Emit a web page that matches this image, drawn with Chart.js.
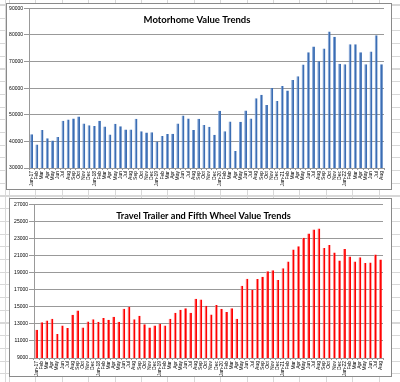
<!DOCTYPE html>
<html>
<head>
<meta charset="utf-8">
<script src="https://cdn.jsdelivr.net/npm/chart.js@4/dist/chart.umd.min.js"></script>
<style>
  html, body { margin: 0; padding: 0; }
  body {
    width: 400px; height: 382px; position: relative; overflow: hidden;
    background-color: #fff;
    background-image:
      repeating-linear-gradient(to right, #d8d8d8 0, #d8d8d8 1px, transparent 1px, transparent 26.4px),
      repeating-linear-gradient(to bottom, #d8d8d8 0, #d8d8d8 1px, transparent 1px, transparent 12.7px);
    background-position: 9px 0, 0 5px;
  }
  .box { position: absolute; background: #fff; border: 1px solid #8a8a8a; box-sizing: border-box; }
  .cv { position: absolute; left: 0; }
</style>
</head>
<body>
<div class="box" style="left:6px; top:3px; width:386px; height:187px;"></div>
<div class="box" style="left:9px; top:198px; width:383px; height:179px;"></div>
<div class="cv" style="top:0; width:400px; height:190px;"><canvas id="c1"></canvas></div>
<div class="cv" style="top:190px; width:400px; height:192px;"><canvas id="c2"></canvas></div>
<script>
const months = ["Jan","Feb","Mar","Apr","May","Jun","Jul","Aug","Sep","Oct","Nov","Dec"];
const years = ["17","18","19","20","21","22"];
const categories = [];
years.forEach(function (y, yi) {
  months.forEach(function (m, mi) {
    if (yi === years.length - 1 && mi > 7) return;
    categories.push(mi === 0 ? m + "-" + y : m);
  });
});

const motorhomeValues = [
  42700, 38800, 44300, 41200, 40300, 41700, 47800, 48200, 48600, 49400, 46700, 46100,
  45800, 47800, 45600, 42600, 46600, 45700, 44500, 44500, 48500, 43800, 43300, 43400,
  40000, 42000, 42800, 42900, 46700, 49700, 48600, 44300, 48500, 46200, 45500, 42500,
  51500, 43800, 47500, 36400, 47400, 51600, 48600, 56200, 57500, 53700, 60100, 55200,
  60800, 59100, 63100, 64500, 68900, 73500, 75700, 70100, 74900, 81300, 79300, 69200,
  69000, 76500, 76500, 73500, 69000, 73800, 79900, 69000
];
const trailerValues = [
  12300, 13200, 13400, 13600, 11800, 12800, 12500, 14060, 14570, 12570, 13270, 13550,
  13240, 13700, 13470, 13820, 13240, 14760, 15000, 13550, 13940, 12960, 12570, 12800,
  13000, 12800, 13600, 14300, 14650, 14840, 14300, 15940, 15860, 15120, 14100, 15200,
  14760, 14400, 14840, 13590, 17470, 18290, 17000, 18250, 18530, 19160, 19270, 18140,
  19510, 20290, 21700, 22100, 23080, 23590, 24060, 24180, 21900, 22250, 21350, 20410,
  21780, 20880, 20290, 20800, 20140, 20180, 21120, 20530
];
const motorhomeTicks = { min: 30000, max: 90000, step: 10000 };
const trailerTicks = { min: 9000, max: 27000, step: 2000 };

const tickFont = { family: "'Liberation Sans', Arial, sans-serif", size: 5 };
const titleFontFamily = "Lato, 'Liberation Sans', sans-serif";

const titleShift = {
  id: 'titleShift',
  afterLayout: function (chart, args, opts) {
    const tb = chart.titleBlock;
    if (!tb || opts.centerX == null) return;
    const shift = opts.centerX - (tb.left + tb.right) / 2;
    tb.left += shift;
    tb.right += shift;
  }
};

function makeChart(id, title, values, color, edge, ticks, geo) {
  return new Chart(document.getElementById(id), {
    type: 'bar',
    data: {
      labels: categories,
      datasets: [{
        data: values,
        backgroundColor: color,
        borderColor: edge,
        borderWidth: { left: 1, right: 0, top: 0, bottom: 0 },
        borderSkipped: false,
        barPercentage: 0.55,
        categoryPercentage: 1.0
      }]
    },
    plugins: [titleShift],
    options: {
      responsive: true,
      maintainAspectRatio: false,
      animation: false,
      devicePixelRatio: 1,
      layout: { padding: { left: geo.padLeft, right: geo.padRight, top: 0, bottom: geo.padBottom } },
      plugins: {
        legend: { display: false },
        tooltip: { enabled: false },
        titleShift: { centerX: geo.titleX },
        title: {
          display: true,
          text: title,
          color: '#000',
          font: { family: titleFontFamily, size: geo.titleSize, weight: 'bold', lineHeight: 1.2 },
          padding: { top: geo.titleTop, bottom: geo.titleBottom }
        }
      },
      scales: {
        x: {
          offset: true,
          grid: { display: true, drawOnChartArea: false, drawTicks: true, tickLength: 2, color: '#999', offset: true },
          border: { display: true, color: '#999', width: 1 },
          ticks: { autoSkip: false, maxRotation: 90, minRotation: 90, font: tickFont, color: '#000', padding: 1 },
          afterFit: function (s) { s.height = geo.xHeight; }
        },
        y: {
          min: ticks.min,
          max: ticks.max,
          grid: { color: '#999', lineWidth: 1, tickLength: 5 },
          border: { display: true, color: '#999', width: 1 },
          ticks: {
            stepSize: ticks.step, font: tickFont, color: '#000', padding: 1,
            callback: function (v) { return String(v); }
          },
          afterFit: function (s) { s.width = geo.yWidth; }
        }
      }
    }
  });
}

makeChart('c1', 'Motorhome Value Trends', motorhomeValues, '#3b6db3', '#7ea2d6', motorhomeTicks,
  { padLeft: 4, padRight: 16, padBottom: 2, xHeight: 20, yWidth: 25, titleSize: 9.5, titleTop: 14, titleBottom: -17, titleX: 197 });
makeChart('c2', 'Travel Trailer and Fifth Wheel Value Trends', trailerValues, '#ff0000', '#ff8c8c', trailerTicks,
  { padLeft: 4, padRight: 17, padBottom: 4, xHeight: 20, yWidth: 30, titleSize: 9.2, titleTop: 20.7, titleBottom: -17.4, titleX: 203.5 });
</script>
</body>
</html>
